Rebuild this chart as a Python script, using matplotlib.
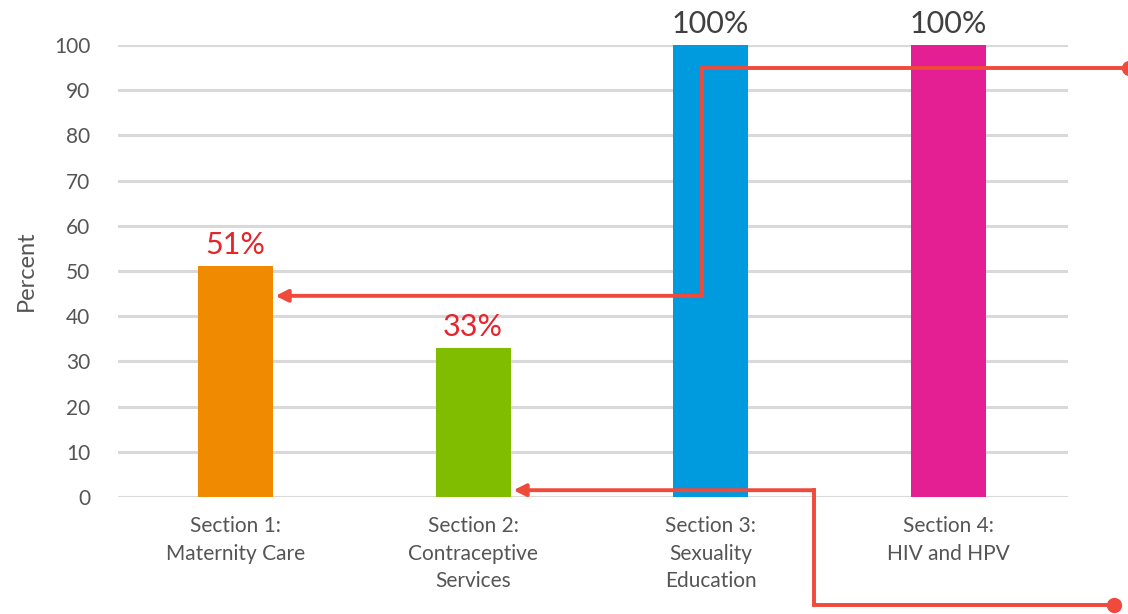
import numpy as np
import matplotlib.pyplot as plt

plt.rcParams['font.family'] = ['Lato', 'DejaVu Sans']

# ---------------------------
# data
# ---------------------------
categories = ["Section 1:\nMaternity Care", "Section 2:\nContraceptive\nServices",
              "Section 3:\nSexuality\nEducation", "Section 4:\nHIV and HPV"]
values = [51, 33, 100, 100]
labels = ["51%", "33%", "100%", "100%"]
label_colors = ["#E8232B", "#E8232B", "#404040", "#404040"]
bar_colors = ["#F08A00", "#80BC00", "#009ADE", "#E31F93"]
yticks = [0, 10, 20, 30, 40, 50, 60, 70, 80, 90, 100]

# connector arrows (data coords): start dot, corner, arrow tip
arrow1 = [(3.76, 94.9), (1.966, 94.9), (1.966, 44.5), (0.168, 44.5)]
arrow2 = [(3.70, -23.9), (2.434, -23.9), (2.434, 1.5), (1.17, 1.5)]

# ---------------------------
# figure
# ---------------------------
fig = plt.figure(figsize=(11.28, 6.14), dpi=100)
ax = fig.add_axes([0.1046, 0.1906, 0.8422, 0.7361])

x = np.arange(len(categories))
ax.bar(x, values, width=0.316, color=bar_colors, zorder=3, clip_on=False)

for xi, v, lab, c in zip(x, values, labels, label_colors):
    ax.text(xi, v + 1.6, lab, ha='center', va='bottom', fontsize=22, color=c)

ax.set_xlim(-0.495, 3.505)
ax.set_ylim(0, 100)
ax.set_yticks(yticks)
ax.set_xticks(x)
ax.set_xticklabels(categories, fontsize=15, color="#555555", linespacing=1.45)
ax.tick_params(axis='y', labelsize=15, labelcolor="#555555", length=0, pad=20)
ax.tick_params(axis='x', length=0, pad=14)
ax.yaxis.grid(True, color="#D9D9D9", linewidth=2.2, zorder=0)
ax.set_axisbelow(True)
for s in ax.spines.values():
    s.set_visible(False)

ax.set_ylabel("Percent", fontsize=17, color="#555555", labelpad=12)

# connector arrows
red = "#F04A3C"
for pts in (arrow1, arrow2):
    xs = [p[0] for p in pts]
    ys = [p[1] for p in pts]
    ax.plot(xs[:-1], ys[:-1], color=red, lw=2.8, clip_on=False, zorder=4,
            solid_joinstyle='miter')
    ax.plot(xs[0], ys[0], 'o', color=red, ms=10, clip_on=False, zorder=5)
    ax.annotate("", xy=pts[-1], xytext=pts[-2],
                arrowprops=dict(arrowstyle='-|>', color=red, lw=2.8,
                                mutation_scale=18, shrinkA=0, shrinkB=0),
                annotation_clip=False, zorder=4)

fig.savefig("out.png", dpi=100)
